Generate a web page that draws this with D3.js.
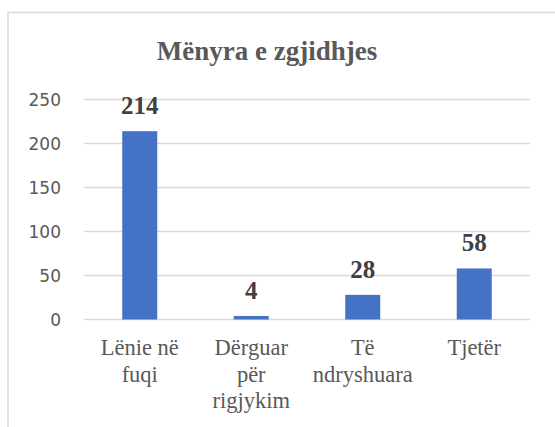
<!DOCTYPE html>
<html>
<head>
<meta charset="utf-8">
<script src="https://cdn.jsdelivr.net/npm/d3@7"></script>
<style>
  html, body { margin: 0; padding: 0; background: #fff; }
  svg { display: block; }
</style>
</head>
<body>
<svg id="chart" width="555" height="427"></svg>
<script>
const title = "Mënyra e zgjidhjes";
const categories = ["Lënie në fuqi", "Dërguar për rigjykim", "Të ndryshuara", "Tjetër"];
const categoryLines = [["Lënie në", "fuqi"], ["Dërguar", "për", "rigjykim"], ["Të", "ndryshuara"], ["Tjetër"]];
const values = [214, 4, 28, 58];
const yTicks = [0, 50, 100, 150, 200, 250];

(function () {
const SERIF = '"Liberation Serif"';
const SANS = '"DejaVu Sans"';
const svg = d3.select("#chart");

svg.append("rect")
  .attr("x", 8).attr("y", 12.5)
  .attr("width", 600).attr("height", 500)
  .attr("fill", "none")
  .attr("stroke", "#d9d9d9")
  .attr("stroke-width", 1.5);

const plotLeft = 84, plotRight = 530, plotTop = 99.5, plotBottom = 319.5;

const x = d3.scaleBand()
  .domain(categories)
  .range([plotLeft, plotRight])
  .paddingInner(0.686)
  .paddingOuter(0.343);

const y = d3.scaleLinear()
  .domain([0, 250])
  .range([plotBottom, plotTop]);

svg.append("g")
  .selectAll("line")
  .data(yTicks)
  .join("line")
  .attr("x1", plotLeft).attr("x2", plotRight)
  .attr("y1", d => y(d)).attr("y2", d => y(d))
  .attr("stroke", "#d9d9d9")
  .attr("stroke-width", 1.3);

const yAxis = d3.axisLeft(y).tickValues(yTicks).tickSize(0).tickPadding(0);
const gy = svg.append("g")
  .attr("transform", `translate(61,0)`)
  .call(yAxis);
gy.select(".domain").remove();
gy.selectAll("text")
  .style("font-family", SANS)
  .style("font-size", "17px")
  .attr("fill", "#595959")
  .attr("dy", "0.36em");

svg.append("g")
  .selectAll("rect")
  .data(values)
  .join("rect")
  .attr("x", (d, i) => x(categories[i]))
  .attr("width", x.bandwidth())
  .attr("y", d => y(d))
  .attr("height", d => y(0) - y(d))
  .attr("fill", "#4472C4");

svg.append("g")
  .selectAll("text")
  .data(values)
  .join("text")
  .attr("x", (d, i) => x(categories[i]) + x.bandwidth() / 2)
  .attr("y", d => y(d) - 17)
  .attr("text-anchor", "middle")
  .style("font-family", SERIF)
  .style("font-weight", "bold")
  .style("font-size", "25px")
  .attr("fill", "#404040")
  .text(d => d);

const gx = svg.append("g");
categories.forEach((c, i) => {
  const cx = x(c) + x.bandwidth() / 2;
  const t = gx.append("text")
    .attr("x", cx)
    .attr("y", 355)
    .attr("text-anchor", "middle")
    .style("font-family", SERIF)
    .style("font-size", "22.5px")
    .attr("fill", "#595959");
  categoryLines[i].forEach((ln, j) => {
    t.append("tspan")
      .attr("x", cx)
      .attr("dy", j === 0 ? 0 : 26.5)
      .text(ln);
  });
});

svg.append("text")
  .attr("x", 267)
  .attr("y", 59.5)
  .attr("text-anchor", "middle")
  .style("font-family", SERIF)
  .style("font-weight", "bold")
  .style("font-size", "27px")
  .attr("fill", "#595959")
  .text(title);
})();
</script>
</body>
</html>
